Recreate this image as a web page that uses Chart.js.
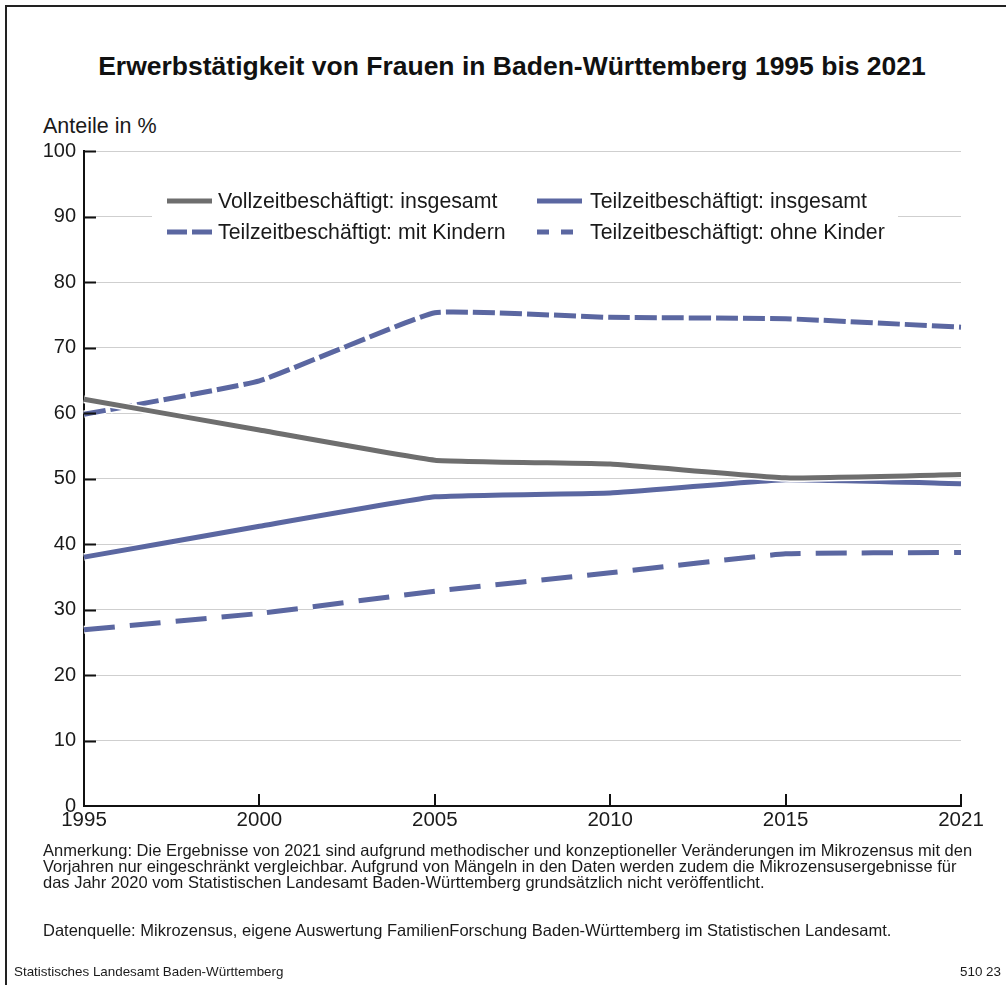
<!DOCTYPE html>
<html>
<head>
<meta charset="utf-8">
<script src="https://cdn.jsdelivr.net/npm/chart.js@4/dist/chart.umd.min.js"></script>
<style>
  body { margin: 0; background: #fff; font-family: "Liberation Sans", Arial, sans-serif; color: #1a1a1a; }
  #page { position: relative; width: 1006px; height: 985px; overflow: hidden; }
  #frame { position: absolute; left: 5px; top: 5px; width: 1010px; height: 1000px; border-left: 2px solid #222; border-top: 2px solid #222; }
  #wrap { position: absolute; left: 0; top: 0; width: 1006px; height: 985px; }
  .t { position: absolute; white-space: nowrap; }
  #title { left: 0; width: 1024px; text-align: center; top: 51px; font-size: 26.5px; font-weight: bold; color: #111; }
  #ylab { left: 43px; top: 114px; font-size: 21.5px; }
  #note { left: 43px; top: 842px; font-size: 16.5px; line-height: 16px; }
  #src { left: 43px; top: 921px; font-size: 16.5px; }
  #foot { left: 14px; top: 964px; font-size: 13.4px; }
  #num { right: 5px; top: 964px; font-size: 13.4px; }
</style>
</head>
<body>
<div id="page">
  <div id="frame"></div>
  <div class="t" id="title">Erwerbstätigkeit von Frauen in Baden-Württemberg 1995 bis 2021</div>
  <div class="t" id="ylab">Anteile in %</div>
  <div id="wrap"><canvas id="chart" width="1006" height="985"></canvas></div>
  <div class="t" id="note">Anmerkung: Die Ergebnisse von 2021 sind aufgrund methodischer und konzeptioneller Veränderungen im Mikrozensus mit den<br>Vorjahren nur eingeschränkt vergleichbar. Aufgrund von Mängeln in den Daten werden zudem die Mikrozensusergebnisse für<br>das Jahr 2020 vom Statistischen Landesamt Baden-Württemberg grundsätzlich nicht veröffentlicht.</div>
  <div class="t" id="src">Datenquelle: Mikrozensus, eigene Auswertung FamilienForschung Baden-Württemberg im Statistischen Landesamt.</div>
  <div class="t" id="foot">Statistisches Landesamt Baden-Württemberg</div>
  <div class="t" id="num">510 23</div>
</div>
<script>
// Data
const years = ["1995", "2000", "2005", "2010", "2015", "2021"];
const vollzeitGesamt = [62.1, 57.4, 52.8, 52.2, 50.1, 50.6];
const teilzeitGesamt = [38.0, 42.7, 47.2, 47.8, 49.8, 49.2];
const teilzeitMitKindern = [59.8, 64.9, 75.3, 74.6, 74.4, 73.1];
const teilzeitOhneKinder = [26.9, 29.4, 32.8, 35.6, 38.5, 38.7];
const yTicks = [0, 10, 20, 30, 40, 50, 60, 70, 80, 90, 100];

const gray = "#6e6e6e";
const blue = "#5b67a1";

// white halo under each line
const haloPlugin = {
  id: "halo",
  beforeDatasetDraw(chart, args) {
    const line = args.meta.dataset;
    const o = line.options;
    const c = o.borderColor, w = o.borderWidth;
    o.borderColor = "#fff";
    o.borderWidth = w + 3;
    line.draw(chart.ctx, chart.chartArea);
    o.borderColor = c;
    o.borderWidth = w;
  }
};

// inward black tick marks
const tickPlugin = {
  id: "innerTicks",
  afterDatasetsDraw(chart) {
    const ctx = chart.ctx, x = chart.scales.x, y = chart.scales.y;
    const a = chart.chartArea;
    ctx.save();
    ctx.strokeStyle = "#111";
    ctx.lineWidth = 2;
    ctx.beginPath();
    yTicks.forEach(v => {
      if (v === 0) return;
      const p = Math.round(y.getPixelForValue(v)) + 0.5;
      ctx.moveTo(a.left, p);
      ctx.lineTo(a.left + 12, p);
    });
    years.forEach((yr, i) => {
      if (i === 0) return;
      const p = Math.round(x.getPixelForValue(i));
      ctx.moveTo(p, a.bottom);
      ctx.lineTo(p, a.bottom - 12);
    });
    ctx.stroke();
    ctx.restore();
  }
};

// legend in a white box, 2 x 2
const legendPlugin = {
  id: "boxLegend",
  beforeDatasetsDraw(chart) {
    const ctx = chart.ctx;
    ctx.save();
    ctx.fillStyle = "#fff";
    ctx.fillRect(152, 183, 746, 64);
    const pos = [[167, 201], [537, 201], [167, 232], [537, 232]];
    ctx.font = "21.3px 'Liberation Sans', Arial, sans-serif";
    ctx.textBaseline = "middle";
    chart.data.datasets.forEach((ds, i) => {
      const [px, py] = pos[i];
      ctx.strokeStyle = ds.borderColor;
      ctx.lineWidth = 5;
      ctx.setLineDash(ds.legendDash || []);
      ctx.beginPath();
      ctx.moveTo(px, py);
      ctx.lineTo(px + 45, py);
      ctx.stroke();
      ctx.setLineDash([]);
      ctx.fillStyle = "#1a1a1a";
      ctx.fillText(ds.label, px + 51 + (i % 2) * 2, py + 1);
    });
    ctx.restore();
  }
};

new Chart(document.getElementById("chart"), {
  type: "line",
  data: {
    labels: years,
    datasets: [
      { label: "Vollzeitbeschäftigt: insgesamt", data: vollzeitGesamt, borderColor: gray },
      { label: "Teilzeitbeschäftigt: insgesamt", data: teilzeitGesamt, borderColor: blue },
      { label: "Teilzeitbeschäftigt: mit Kindern", data: teilzeitMitKindern, borderColor: blue, borderDash: [22, 5], legendDash: [20, 5] },
      { label: "Teilzeitbeschäftigt: ohne Kinder", data: teilzeitOhneKinder, borderColor: blue, borderDash: [31, 15], legendDash: [12, 12] }
    ]
  },
  options: {
    responsive: false,
    animation: false,
    layout: { padding: { left: 20, right: 45, top: 151, bottom: 149 } },
    elements: {
      point: { radius: 0 },
      line: { borderWidth: 5, tension: 0.1, borderCapStyle: "butt", borderJoinStyle: "round", fill: false }
    },
    plugins: { legend: { display: false }, tooltip: { enabled: false } },
    scales: {
      x: {
        offset: false,
        grid: { display: false, drawTicks: false },
        border: { display: true, color: "#111", width: 2 },
        ticks: { color: "#1a1a1a", font: { family: "'Liberation Sans', Arial, sans-serif", size: 20.5 }, padding: 2, maxRotation: 0, autoSkip: false },
        afterFit(s) { s.height = 30; }
      },
      y: {
        min: 0, max: 100,
        afterBuildTicks(s) { s.ticks = yTicks.map(v => ({ value: v })); },
        grid: {
          drawTicks: false,
          color: c => (c.tick && c.tick.value === 0) ? "rgba(0,0,0,0)" : "#cfcfcf",
          lineWidth: 1
        },
        border: { display: true, color: "#111", width: 2 },
        ticks: { color: "#1a1a1a", font: { family: "'Liberation Sans', Arial, sans-serif", size: 20 }, padding: 8 },
        afterFit(s) { s.width = 64; }
      }
    }
  },
  plugins: [haloPlugin, legendPlugin, tickPlugin]
});
</script>
</body>
</html>
